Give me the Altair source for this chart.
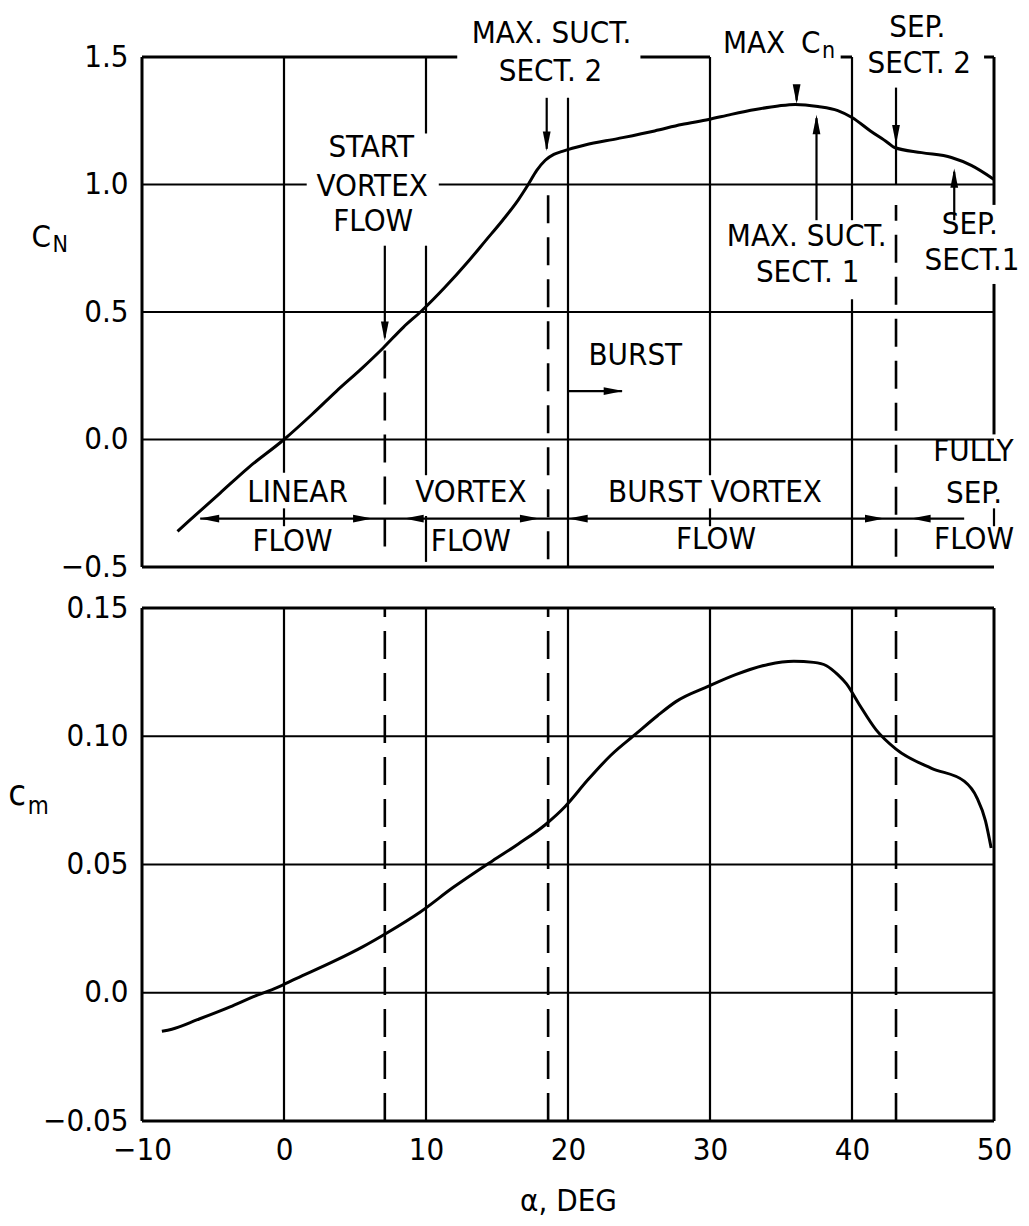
import altair as alt
import pandas as pd

FONT = "Liberation Sans Narrow, Arial Narrow, DejaVu Sans Condensed, sans-serif"
FS = 31

# ---------------- data ----------------
cn_alpha = [-7.5, -6.0, -4.5, -2.5, 0.0, 2.0, 3.7, 5.5, 7.0, 8.4, 9.7, 11.3, 13.0,
            14.2, 15.4, 16.5, 17.2, 17.8, 18.4, 19.0, 19.6, 21.2, 23.5, 26.1, 28.0,
            29.9, 31.5, 33.2, 34.8, 36.0, 37.6, 39.0, 40.0, 41.3, 42.5, 43.0, 44.9,
            47.0, 48.4, 50.0]
cn_vals = [-0.36, -0.285, -0.21, -0.11, 0.0, 0.10, 0.19, 0.28, 0.36, 0.44,
           0.505, 0.595, 0.70, 0.78, 0.86, 0.94, 1.0, 1.055, 1.095, 1.118, 1.13,
           1.155, 1.18, 1.21, 1.235, 1.255, 1.275, 1.294, 1.308, 1.314, 1.306, 1.29,
           1.263, 1.21, 1.165, 1.145, 1.125, 1.106, 1.075, 1.02]

cm_alpha = [-8.6, -7.9, -6.1, -3.8, -2.15, -0.5, 0.85, 3.6, 5.5, 7.3, 9.6, 11.9,
            14.7, 16.5, 18.4, 19.8, 21.4, 23.0, 24.8, 26.3, 27.6, 29.9, 31.8, 34.1,
            35.9, 37.3, 38.2, 39.0, 39.6, 40.5, 41.7, 43.1, 45.6, 47.9, 48.8, 49.4,
            49.8]
cm_vals = [-0.0150, -0.0142, -0.0105, -0.0055, -0.0015, 0.002, 0.0055, 0.0125,
           0.0178, 0.0235, 0.0315, 0.041, 0.0515, 0.058, 0.0655, 0.0726, 0.083,
           0.0925, 0.101, 0.108, 0.1135, 0.1195, 0.124, 0.128, 0.1292, 0.1288,
           0.1275, 0.124, 0.1205, 0.1125, 0.1025, 0.095, 0.0875, 0.0825, 0.076,
           0.067, 0.0564]

x_ticks = [-10, 0, 10, 20, 30, 40, 50]
cn_ticks = [-0.5, 0.0, 0.5, 1.0, 1.5]
cm_ticks = [-0.05, 0.0, 0.05, 0.10, 0.15]

# flow-regime boundaries (deg)
bound_alpha = [7.1, 18.6, 43.1]

# ---- top panel: frame pieces (vertical: x, y1, y2 / horizontal: y, x1, x2)
top_frame_vx = [-10, 50, 50]
top_frame_vy1 = [-0.5, 0.92, 0.02]
top_frame_vy2 = [1.5, 1.5, 0.61]
top_frame_hy = [-0.5, 1.5, 1.5, 1.5, 1.5]
top_frame_hx1 = [-10, -10, 25.1, 39.2, 49.3]
top_frame_hx2 = [50, 12.2, 30, 40, 50]

# ---- top panel: grid pieces
top_grid_vx = [0, 10, 10, 10, 20, 30, 40, 40, 0, 30, 50]
top_grid_vy1 = [-0.13, 1.20, -0.14, -0.48, -0.5, -0.14, 0.86, -0.5, -0.34, -0.34, -0.34]
top_grid_vy2 = [1.5, 1.5, 0.76, -0.30, 1.34, 1.5, 1.5, 0.55, -0.27, -0.27, -0.27]
top_grid_hy = [1.0, 1.0, 0.5, 0.0]
top_grid_hx1 = [-10, 10.9, -10, -10]
top_grid_hx2 = [1.6, 50, 50, 50]

# ---- top panel: dashed boundary pieces
top_dash_y1 = [-0.42, -0.47, -0.46]
top_dash_y2 = [0.36, 1.0, 0.92]

# ---- top panel: annotation arrow shafts
shaft_vx = [7.1, 18.5, 36.1, 37.5, 43.1, 47.2]
shaft_vy1 = [0.40, 1.14, 1.33, 0.86, 1.0, 0.86]
shaft_vy2 = [0.76, 1.34, 1.39, 1.26, 1.38, 1.05]
shaft_hy = [-0.31, 0.19]
shaft_hx1 = [-5.9, 20.0]
shaft_hx2 = [47.9, 23.8]

# arrowheads (centre positions)
head_down_x = [7.1, 18.5, 36.1, 43.1]
head_down_y = [0.425, 1.17, 1.355, 1.195]
head_up_x = [37.5, 47.2]
head_up_y = [1.235, 1.025]
head_right_x = [23.2, 5.55, 17.3, 41.6]
head_right_y = [0.19, -0.31, -0.31, -0.31]
head_left_x = [-5.25, 9.15, 20.7, 44.85]
head_left_y = [-0.31, -0.31, -0.31, -0.31]

# annotation texts (top panel)
ann_text = ["MAX. SUCT.", "SECT. 2", "START", "VORTEX", "FLOW", "MAX", "C",
            "SEP.", "SECT. 2", "MAX. SUCT.", "SECT. 1", "SEP.", "SECT.1", "BURST",
            "LINEAR", "FLOW", "VORTEX", "FLOW", "BURST VORTEX", "FLOW",
            "FULLY", "SEP.", "FLOW", "C"]
ann_x = [18.84, 18.77, 6.14, 6.21, 6.28, 33.1, 37.1, 44.60, 44.74, 36.81, 36.88,
         48.3, 48.45, 24.74, 0.95, 0.60, 13.16, 13.16, 30.35, 30.42,
         48.55, 48.6, 48.6, -17.1]
ann_y = [1.578, 1.431, 1.133, 0.980, 0.843, 1.541, 1.541, 1.603, 1.462, 0.784, 0.643,
         0.831, 0.690, 0.314, -0.22, -0.412, -0.22, -0.412, -0.22, -0.404,
         -0.059, -0.224, -0.404, 0.78]
sub_text_top = ["n", "N"]
sub_x_top = [38.35, -15.75]
sub_y_top = [1.51, 0.75]

# bottom panel
bot_frame_vx = [-10, 50]
bot_frame_hy = [-0.05, 0.15]
bot_grid_vx = [0, 10, 20, 30, 40]
bot_grid_hy = [0.0, 0.05, 0.10]
bot_label_text = ["c"]
bot_label_x = [-18.8]
bot_label_y = [0.0764]
bot_sub_text = ["m"]
bot_sub_x = [-17.3]
bot_sub_y = [0.0713]

# ---------------- chart construction ----------------
W = 852
XS = alt.Scale(domain=[-10, 50], nice=False, zero=False)
YS_TOP = alt.Scale(domain=[-0.5, 1.5], nice=False, zero=False)
YS_BOT = alt.Scale(domain=[-0.05, 0.15], nice=False, zero=False)

label_axis = dict(
    domain=False, ticks=False, grid=False, labelFont=FONT, labelFontSize=FS,
    labelColor="black", labelPadding=14, labelFlush=False, labelOverlap=False,
)
TOP_Y_AXIS = alt.Axis(values=cn_ticks, format=".1f", title=None, **label_axis)
BOT_Y_AXIS = alt.Axis(values=cm_ticks, title=None,
                      labelExpr="datum.value == 0 ? '0.0' : format(datum.value, '.2f')",
                      **label_axis)
BOT_X_AXIS = alt.Axis(values=x_ticks, format="d", title="α, DEG",
                      titleFont=FONT, titleFontSize=FS, titleFontWeight="normal",
                      titleColor="black", titlePadding=21,
                      domain=False, ticks=False, grid=False, labelFont=FONT,
                      labelFontSize=FS, labelColor="black", labelPadding=14,
                      labelFlush=False, labelOverlap=False)


class Panel:
    def __init__(self, ys, xaxis, yaxis):
        self.ys = ys
        self.xaxis = xaxis
        self.yaxis = yaxis

    def X(self, f):
        if self.xaxis is None:
            return alt.X(f, type="quantitative", scale=XS, axis=None)
        return alt.X(f, type="quantitative", scale=XS, axis=self.xaxis)

    def Y(self, f):
        return alt.Y(f, type="quantitative", scale=self.ys, axis=self.yaxis)

    def vrule(self, x, y1, y2, sw, dash=None):
        df = pd.DataFrame({"x": x, "y1": y1, "y2": y2})
        kw = dict(color="black", strokeWidth=sw)
        if dash:
            kw["strokeDash"] = dash
        return alt.Chart(df).mark_rule(**kw).encode(
            x=self.X("x"), y=self.Y("y1"), y2="y2:Q")

    def hrule(self, y, x1, x2, sw):
        df = pd.DataFrame({"y": y, "x1": x1, "x2": x2})
        return alt.Chart(df).mark_rule(color="black", strokeWidth=sw).encode(
            x=self.X("x1"), x2="x2:Q", y=self.Y("y"))

    def heads(self, x, y, path):
        df = pd.DataFrame({"x": x, "y": y})
        return alt.Chart(df).mark_point(
            shape=path, filled=True, color="black", opacity=1, size=380, strokeWidth=0
        ).encode(x=self.X("x"), y=self.Y("y"))

    def texts(self, t, x, y, fs):
        df = pd.DataFrame({"t": t, "x": x, "y": y})
        return alt.Chart(df).mark_text(
            font=FONT, fontSize=fs, color="black", align="center", baseline="middle",
            dy=-3,
        ).encode(x=self.X("x"), y=self.Y("y"), text="t:N")

    def curve(self, xs, ys):
        df = pd.DataFrame({"a": xs, "v": ys})
        return alt.Chart(df).mark_line(
            color="black", strokeWidth=3, interpolate="monotone"
        ).encode(x=self.X("a"), y=self.Y("v"))


DOWN = "M 0 1 L -0.4 -1 L 0.4 -1 Z"
UP = "M 0 -1 L -0.4 1 L 0.4 1 Z"
RIGHT = "M 1 0 L -1 -0.4 L -1 0.4 Z"
LEFT = "M -1 0 L 1 -0.4 L 1 0.4 Z"
DASH = [28, 14]

P = Panel(YS_TOP, None, TOP_Y_AXIS)
top = alt.layer(
    P.curve(cn_alpha, cn_vals),
    P.vrule(top_frame_vx, top_frame_vy1, top_frame_vy2, 3),
    P.hrule(top_frame_hy, top_frame_hx1, top_frame_hx2, 3),
    P.vrule(top_grid_vx, top_grid_vy1, top_grid_vy2, 2.2),
    P.hrule(top_grid_hy, top_grid_hx1, top_grid_hx2, 2.2),
    P.vrule(bound_alpha, top_dash_y1, top_dash_y2, 2.6, DASH),
    P.vrule(shaft_vx, shaft_vy1, shaft_vy2, 2.2),
    P.hrule(shaft_hy, shaft_hx1, shaft_hx2, 2.2),
    P.heads(head_down_x, head_down_y, DOWN),
    P.heads(head_up_x, head_up_y, UP),
    P.heads(head_right_x, head_right_y, RIGHT),
    P.heads(head_left_x, head_left_y, LEFT),
    P.texts(ann_text, ann_x, ann_y, FS),
    P.texts(sub_text_top, sub_x_top, sub_y_top, 23),
).properties(width=W, height=510)

B = Panel(YS_BOT, BOT_X_AXIS, BOT_Y_AXIS)
n_bv = len(bot_frame_vx)
n_bh = len(bot_frame_hy)
bottom = alt.layer(
    B.curve(cm_alpha, cm_vals),
    B.vrule(bot_frame_vx, [-0.05] * n_bv, [0.15] * n_bv, 3),
    B.hrule(bot_frame_hy, [-10] * n_bh, [50] * n_bh, 3),
    B.vrule(bot_grid_vx, [-0.05] * len(bot_grid_vx), [0.15] * len(bot_grid_vx), 2.2),
    B.hrule(bot_grid_hy, [-10] * len(bot_grid_hy), [50] * len(bot_grid_hy), 2.2),
    B.vrule(bound_alpha, [-0.05] * 3, [0.15] * 3, 2.6, DASH),
    B.texts(bot_label_text, bot_label_x, bot_label_y, 36),
    B.texts(bot_sub_text, bot_sub_x, bot_sub_y, 24),
).properties(width=W, height=513)

chart = alt.vconcat(top, bottom, spacing=41, bounds="flush").configure_view(
    stroke=None
).properties(
    padding={"left": 0, "top": 3, "right": 0, "bottom": 0},
    background="white",
)

chart.save("out.html", embed_options={"renderer": "svg", "actions": False})
